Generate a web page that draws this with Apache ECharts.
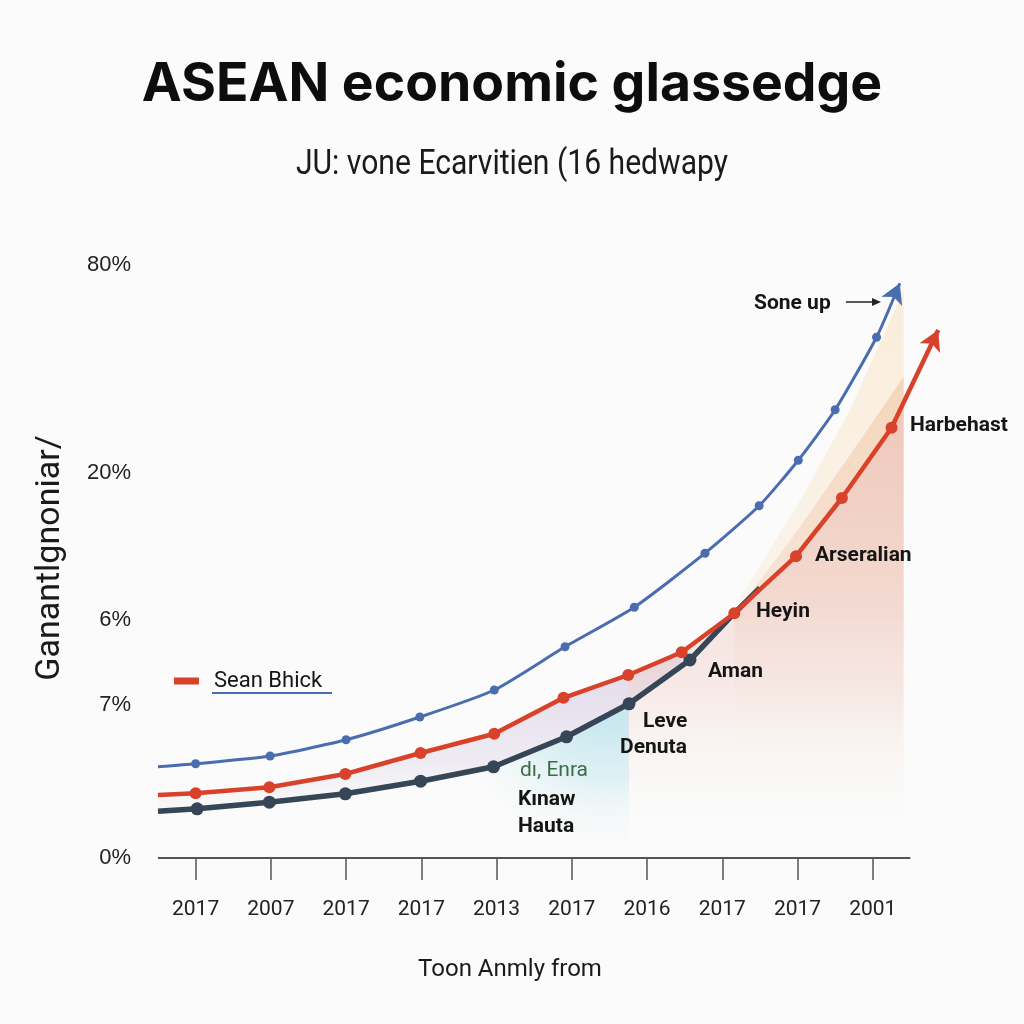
<!DOCTYPE html>
<html>
<head>
<meta charset="utf-8">
<script src="https://cdn.jsdelivr.net/npm/echarts@6/dist/echarts.min.js"></script>
<style>
  html, body { margin: 0; padding: 0; background: #fafbfa; }
  #main { width: 1024px; height: 1024px; }
</style>
</head>
<body>
<div id="main"></div>
<script>
// x labels, one per tick
var years = ['2017', '2007', '2017', '2017', '2013', '2017', '2016', '2017', '2017', '2001'];
// y tick labels and where they sit on the value scale
var yLabels = ['0%', '7%', '6%', '20%', '80%'];
var yLabelAt = [0, 25.5, 39.7, 64.2, 98.8];

// blue line (x = year index, y = scale value)
var blueX = [-0.5, 0, 0.99, 2.0, 2.98, 3.97, 4.91, 5.83, 6.77, 7.49, 8.01, 8.50, 9.05, 9.36];
var blueY = [15.2, 15.7, 17.0, 19.7, 23.5, 28.0, 35.2, 41.8, 50.8, 58.7, 66.3, 74.7, 86.8, 95.8];
// red line
var redX = [-0.5, 0, 0.98, 1.99, 2.99, 3.97, 4.89, 5.75, 6.46, 7.16, 7.98, 8.59, 9.25, 9.87];
var redY = [10.5, 10.8, 11.8, 14.0, 17.5, 20.7, 26.7, 30.5, 34.3, 40.8, 50.3, 60.0, 71.7, 88.0];
// dark line
var darkX = [-0.5, 0.02, 0.98, 1.99, 2.99, 3.96, 4.93, 5.76, 6.57, 7.16, 7.50];
var darkY = [7.8, 8.2, 9.3, 10.7, 12.8, 15.2, 20.2, 25.7, 33.0, 40.8, 45.0];

// shaded bands
var peachX = [7.16, 7.28, 8.04, 8.70, 9.41];
var peachY = [40.8, 44.2, 59.7, 74.7, 94.7];
var bandX = [7.16, 7.91, 8.70, 9.41];
var bandY = [40.8, 53.0, 67.2, 80.2];
var pinkX = [5.75, 6.46, 7.16, 7.98, 8.59, 9.25, 9.41];
var pinkY = [30.5, 34.3, 40.8, 50.3, 60.0, 71.7, 75.5];

var chart = echarts.init(document.getElementById('main'));

function pts(xs, ys) {
  return xs.map(function (x, i) { return [x, ys[i]]; });
}

function lineData(xs, ys, arrowRotate, dotUntil) {
  return xs.map(function (x, i) {
    var item = { value: [x, ys[i]] };
    if (i === 0 || i > dotUntil) item.symbol = 'none';
    if (arrowRotate != null && i === xs.length - 1) {
      item.symbol = 'arrow';
      item.symbolSize = [17, 20];
      item.symbolRotate = arrowRotate;
    }
    return item;
  });
}

function vGrad(stops, y0, y1) {
  return {
    type: 'linear', global: true, x: 0, y: y0, x2: 0, y2: y1,
    colorStops: stops
  };
}

function fill(name, data, color) {
  return {
    name: name, type: 'line', data: data, z: 1, silent: true,
    showSymbol: false, symbol: 'none',
    lineStyle: { width: 0, opacity: 0 },
    areaStyle: { color: color, opacity: 1 }
  };
}

function note(text, x, y, color, weight) {
  return {
    type: 'text', z: 100,
    style: {
      text: text, x: x, y: y, verticalAlign: 'middle',
      fill: color || '#151515', fontSize: 21, fontWeight: weight || 'bold', fontFamily: 'Roboto'
    }
  };
}

var tickIdx = years.map(function (y, i) { return i; });

var option = {
  backgroundColor: '#fafbfa',
  animation: false,
  title: {
    text: 'ASEAN economic glassedge',
    left: 'center', top: 53,
    textStyle: { fontSize: 53.5, fontWeight: 'bold', color: '#0d0d0d', fontFamily: 'Inter' }
  },
  legend: {
    data: ['Sean Bhick'],
    left: 169, top: 665,
    icon: 'rect', itemWidth: 25, itemHeight: 7,
    textStyle: { fontSize: 22, color: '#151515', fontFamily: 'Roboto', padding: [0, 0, 0, 10] }
  },
  grid: { left: 158, right: 76, top: 258, bottom: 166 },
  xAxis: {
    type: 'value', min: -0.5, max: 10,
    name: 'Toon Anmly from', nameLocation: 'middle', nameGap: 100,
    nameTextStyle: { fontSize: 24, color: '#1a1a1a', fontFamily: 'Roboto', padding: [0, 86, 0, 0] },
    axisLine: { show: false },
    axisTick: { show: true, customValues: tickIdx, length: 22, lineStyle: { color: '#555', width: 1.5 } },
    axisLabel: {
      customValues: tickIdx, margin: 41, fontSize: 21, color: '#222', fontFamily: 'Roboto',
      formatter: function (v) { return years[Math.round(v)]; }
    },
    splitLine: { show: false }
  },
  yAxis: {
    type: 'value', min: 0, max: 100,
    name: 'Ganantlgnoniar/', nameLocation: 'middle', nameGap: 91, nameRotate: 90,
    nameTextStyle: { fontSize: 34, color: '#1a1a1a', fontFamily: 'Roboto' },
    axisLine: { show: false },
    axisTick: { show: false },
    axisLabel: {
      customValues: yLabelAt, margin: 27, fontSize: 22, color: '#222', fontFamily: 'Liberation Sans',
      formatter: function (v) {
        var i = yLabelAt.indexOf(v);
        return i >= 0 ? yLabels[i] : '';
      }
    },
    splitLine: { show: false }
  },
  series: [
    fill('lavender', pts(redX.slice(0, 9), redY.slice(0, 9)),
      vGrad([{ offset: 0, color: 'rgba(200,180,215,0.5)' }, { offset: 0.6, color: 'rgba(205,190,220,0.25)' }, { offset: 1, color: 'rgba(250,251,250,0)' }], 650, 840)),
    fill('cover', pts(darkX.slice(0, 10), darkY.slice(0, 10)), '#fafbfa'),
    fill('cyan', pts(darkX.slice(3, 8), darkY.slice(3, 8)), {
      type: 'radial', global: true, x: 605, y: 690, r: 165,
      colorStops: [
        { offset: 0, color: 'rgba(150,210,228,0.65)' },
        { offset: 0.55, color: 'rgba(175,222,235,0.35)' },
        { offset: 1, color: 'rgba(250,251,250,0)' }
      ]
    }),
    fill('peach', pts(peachX, peachY),
      vGrad([{ offset: 0, color: 'rgba(250,226,195,0.6)' }, { offset: 0.7, color: 'rgba(250,232,210,0.4)' }, { offset: 1, color: 'rgba(250,251,250,0)' }], 290, 700)),
    fill('band', pts(bandX, bandY),
      vGrad([{ offset: 0, color: 'rgba(242,196,160,0.6)' }, { offset: 0.6, color: 'rgba(242,205,185,0.4)' }, { offset: 1, color: 'rgba(250,251,250,0)' }], 377, 760)),
    fill('pink', pts(pinkX, pinkY),
      vGrad([{ offset: 0, color: 'rgba(234,190,184,0.6)' }, { offset: 0.65, color: 'rgba(242,212,206,0.45)' }, { offset: 1, color: 'rgba(250,251,250,0)' }], 400, 845)),
    {
      name: 'blue', type: 'line', z: 3, smooth: 0.2,
      data: lineData(blueX, blueY, -24, 12),
      symbol: 'circle', symbolSize: 9,
      lineStyle: { color: '#4a6db0', width: 3 },
      itemStyle: { color: '#4a6db0' },
      markLine: {
        silent: true, symbol: 'none', label: { show: false },
        lineStyle: { color: '#555', width: 2, type: 'solid' },
        data: [[{ coord: [-0.5, 0] }, { coord: [9.5, 0] }]]
      }
    },
    {
      name: 'dark', type: 'line', z: 3,
      data: lineData(darkX, darkY, null, 8),
      symbol: 'circle', symbolSize: 13,
      lineStyle: { color: '#364656', width: 5.5 },
      itemStyle: { color: '#364656' }
    },
    {
      name: 'Sean Bhick', type: 'line', z: 4,
      data: lineData(redX, redY, -25, 12),
      symbol: 'circle', symbolSize: 12,
      lineStyle: { color: '#d8412a', width: 4.5 },
      itemStyle: { color: '#d8412a' }
    }
  ],
  graphic: [
    {
      type: 'text', z: 100, x: 512, y: 165, scaleX: 0.86,
      style: {
        text: 'JU: vone Ecarvitien (16 hedwapy', x: 0, y: 0, align: 'center', verticalAlign: 'middle',
        fill: '#1a1a1a', fontSize: 35, fontFamily: 'Roboto'
      }
    },
    { type: 'rect', z: 100, shape: { x: 212, y: 692, width: 120, height: 2 }, style: { fill: '#4a6db0' } },
    note('Sone up', 754, 304),
    { type: 'line', z: 100, shape: { x1: 846, y1: 302, x2: 876, y2: 302 }, style: { stroke: '#222', lineWidth: 1.5 } },
    { type: 'polygon', z: 100, shape: { points: [[881, 302], [872, 298], [872, 306]] }, style: { fill: '#222' } },
    note('Harbehast', 910, 426),
    note('Arseralian', 815, 556),
    note('Heyin', 756, 612),
    note('Aman', 708, 672),
    note('Leve', 643, 722),
    note('Denuta', 620, 748),
    note('dı, Enra', 520, 771, '#3d6b45', 'normal'),
    note('Kınaw', 518, 800),
    note('Hauta', 518, 827)
  ]
};

chart.setOption(option);
</script>
</body>
</html>
